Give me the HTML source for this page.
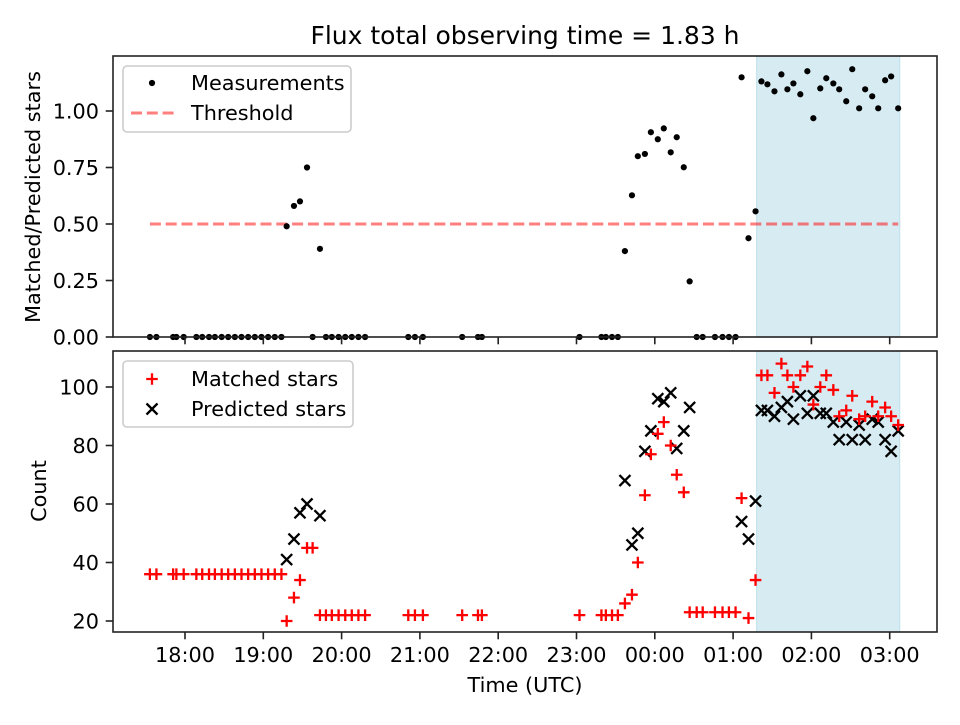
<!DOCTYPE html>
<html><head><meta charset="utf-8"><style>
body{margin:0;background:#fff}
svg text{font-family:"DejaVu Sans","Liberation Sans",sans-serif;fill:#000}
</style></head><body>
<svg id="chart" width="960" height="720" viewBox="0 0 960 720" xmlns="http://www.w3.org/2000/svg"></svg>
<script>
// minutes relative to 18:00 UTC
const times = [-26.9,-21.9,-9.1,-6.6,-1,8.7,13.2,18.4,22.9,28.1,33.1,38.2,43.3,48.4,53.5,58.6,63.7,68.8,73.9,
77.9,83.5,88.1,93.5,97.8,103.4,108,112.5,117.7,122.8,127.8,132.9,138,171.1,176.2,182.3,212.4,224.5,227.5,
302.3,319.1,322.5,327.2,331.7,337.1,342.5,347,352.4,357,362.3,366.9,372.2,376.8,382.2,386.7,392.1,396.7,
406.1,411.9,416.8,421.9,426.5,431.8,437.2,441.7,446.3,451.7,457,461.6,466.2,471.5,476.9,481.5,486.8,491.4,
496.8,501.3,506.7,511.3,516.6,521.2,526.6,531.2,536.5,541.1,546.5];
const ratio = [0,0,0,0,0,0,0,0,0,0,0,0,0,0,0,0,0,0,0,
0.49,0.58,0.60,0.75,0,0.39,0,0,0,0,0,0,0,0,0,0,0,0,0,
0,0,0,0,0,0.38,0.627,0.80,0.81,0.906,0.875,0.923,0.817,0.884,0.751,0.246,0,0,
0,0,0,0,1.149,0.437,0.556,1.131,1.118,1.087,1.162,1.096,1.122,1.074,1.176,0.968,1.1,1.145,
1.122,1.096,1.043,1.185,1.012,1.096,1.065,1.012,1.136,1.153,1.012];
const matched = [36,36,36,36,36,36,36,36,36,36,36,36,36,36,36,36,36,36,36,
20,28,34,45,45,22,22,22,22,22,22,22,22,22,22,22,22,22,22,
22,22,22,22,22,26,29,40,63,77,84,88,80,70,64,23,23,23,
23,23,23,23,62,21,34,104,104,98,108,104,100,104,107,94,100,104,
99,90,92,97,89,90,95,90,93,90,87];
const predicted = [null,null,null,null,null,null,null,null,null,null,null,null,null,null,null,null,null,null,null,
41,48,57,60,null,56,null,null,null,null,null,null,null,null,null,null,null,null,null,
null,null,null,null,null,68,46,50,78,85,96,95,98,79,85,93,null,null,
null,null,null,null,54,48,61,92,92,90,93,95,89,97,91,97,91,91,
88,82,88,82,87,82,89,88,82,78,85];
const xTickVals = [0,60,120,180,240,300,360,420,480,540];
const xTickLabels = ["18:00","19:00","20:00","21:00","22:00","23:00","00:00","01:00","02:00","03:00"];
const topTicks = [0,0.25,0.5,0.75,1.0];
const topTickLabels = ["0.00","0.25","0.50","0.75","1.00"];
const botTicks = [20,40,60,80,100];
const threshold = [0.5];
const span = [438, 547.7];

const NS="http://www.w3.org/2000/svg";
const svg=document.getElementById('chart');
function mk(tag,attrs,parent){const e=document.createElementNS(NS,tag);for(const k in attrs)e.setAttribute(k,attrs[k]);(parent||svg).appendChild(e);return e;}
const L=113,R=937,T1=56,B1=337,T2=351,B2=632;
const FS='20.8', TK=7.3;
const xs=m=>185+m*78.3/60;
const y1=v=>337-v*226;
const y2=v=>621-(v-20)*2.925;

let t=mk('text',{x:525,y:44,'text-anchor':'middle','font-size':'25'});t.textContent='Flux total observing time = 1.83 h';



let s1=mk('rect',{x:xs(span[0]),y:T1,width:xs(span[1])-xs(span[0]),height:B1-T1,fill:'#add8e6','fill-opacity':0.5,stroke:'#add8e6','stroke-opacity':0.7});


let s2=mk('rect',{x:xs(span[0]),y:T2,width:xs(span[1])-xs(span[0]),height:B2-T2,fill:'#add8e6','fill-opacity':0.5,stroke:'#add8e6','stroke-opacity':0.7});



let th=mk('line',{x1:xs(times[0]),x2:xs(times[times.length-1]),y1:y1(threshold[0]),y2:y1(threshold[0]),stroke:'red','stroke-opacity':0.5,'stroke-width':3,'stroke-dasharray':'11,4.8'});



const gm=mk('g',{});


times.forEach((m,i)=>{
  const c=mk('circle',{cx:xs(m),cy:y1(ratio[i]),r:3.1,fill:'#000'},gm);
  
  
});

const gp=mk('g',{});


times.forEach((m,i)=>{
  if(predicted[i]===null)return;
  const x=xs(m),y=y2(predicted[i]),d=5.5;
  const p=mk('path',{d:`M${x-d} ${y-d}L${x+d} ${y+d}M${x-d} ${y+d}L${x+d} ${y-d}`,stroke:'#000','stroke-width':2.3,fill:'none'},gp);
  
  
});
const gr=mk('g',{});


times.forEach((m,i)=>{
  const x=xs(m),y=y2(matched[i]),d=5.8;
  const p=mk('path',{d:`M${x-d} ${y}L${x+d} ${y}M${x} ${y-d}L${x} ${y+d}`,stroke:'#ff0000','stroke-width':2.3,fill:'none'},gr);
  
  
});

let f1=mk('rect',{x:L,y:T1,width:R-L,height:B1-T1,fill:'none',stroke:'#222','stroke-width':1.6});


let f2=mk('rect',{x:L,y:T2,width:R-L,height:B2-T2,fill:'none',stroke:'#222','stroke-width':1.6});



xTickVals.forEach((m,i)=>{
  const x=xs(m);
  mk('line',{x1:x,x2:x,y1:B1,y2:B1+TK,stroke:'#222','stroke-width':1.6});
  mk('line',{x1:x,x2:x,y1:B2,y2:B2+TK,stroke:'#222','stroke-width':1.6});
  const tx=mk('text',{x:x,y:B2+30,'text-anchor':'middle','font-size':FS});tx.textContent=xTickLabels[i];
  
  
});
topTicks.forEach((v,i)=>{
  const y=y1(v);
  mk('line',{x1:L-TK,x2:L,y1:y,y2:y,stroke:'#222','stroke-width':1.6});
  const tx=mk('text',{x:L-14,y:y+7.5,'text-anchor':'end','font-size':FS});tx.textContent=topTickLabels[i];
  
  
});
botTicks.forEach(v=>{
  const y=y2(v);
  mk('line',{x1:L-TK,x2:L,y1:y,y2:y,stroke:'#222','stroke-width':1.6});
  const tx=mk('text',{x:L-14,y:y+7.5,'text-anchor':'end','font-size':FS});tx.textContent=String(v);
  
  
});

let a1=mk('text',{x:0,y:0,'text-anchor':'middle','font-size':FS,transform:'translate(40,197) rotate(-90)'});a1.textContent='Matched/Predicted stars';


let a2=mk('text',{x:0,y:0,'text-anchor':'middle','font-size':FS,transform:'translate(46,491) rotate(-90)'});a2.textContent='Count';


let a3=mk('text',{x:525,y:692,'text-anchor':'middle','font-size':FS});a3.textContent='Time (UTC)';



const lg1=mk('g',{});


mk('rect',{x:123,y:66,width:228,height:66,rx:4,fill:'#fff','fill-opacity':0.8,stroke:'#ccc','stroke-width':1.6},lg1);
mk('circle',{cx:152,cy:83,r:3.1,fill:'#000'},lg1);
let l1=mk('text',{x:191,y:90,'font-size':FS},lg1);l1.textContent='Measurements';


mk('line',{x1:131,x2:175,y1:113,y2:113,stroke:'red','stroke-opacity':0.5,'stroke-width':3,'stroke-dasharray':'11,4.8'},lg1);
let l2=mk('text',{x:191,y:120,'font-size':FS},lg1);l2.textContent='Threshold';



const lg2=mk('g',{});


mk('rect',{x:123,y:361,width:230,height:66,rx:4,fill:'#fff','fill-opacity':0.8,stroke:'#ccc','stroke-width':1.6},lg2);
mk('path',{d:'M146.2 379L157.8 379M152 373.2L152 384.8',stroke:'#ff0000','stroke-width':2.3},lg2);
let l3=mk('text',{x:191,y:386,'font-size':FS},lg2);l3.textContent='Matched stars';


mk('path',{d:'M146.5 403.5L157.5 414.5M146.5 414.5L157.5 403.5',stroke:'#000','stroke-width':2.3},lg2);
let l4=mk('text',{x:191,y:416,'font-size':FS},lg2);l4.textContent='Predicted stars';


</script>
</body></html>
